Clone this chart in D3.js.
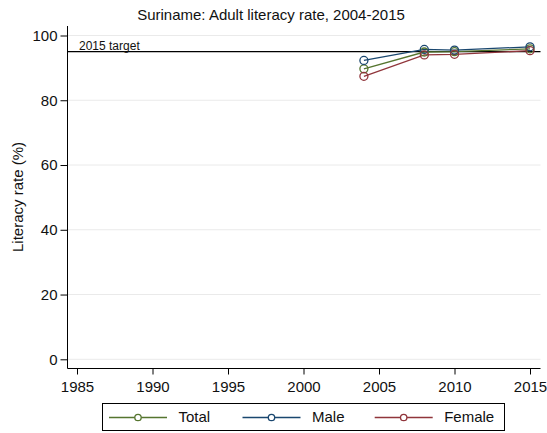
<!DOCTYPE html>
<html><head><meta charset="utf-8">
<script src="https://cdn.jsdelivr.net/npm/d3@7"></script>
<style>body{margin:0;background:#fff;}svg{display:block;}svg text{font-family:"Liberation Sans",Arial,sans-serif;fill:#111;}</style>
</head><body>
<script>
const years = [2004, 2008, 2010, 2015];
const totalVals = [89.7, 94.9, 95.0, 95.9];
const maleVals = [92.3, 95.7, 95.5, 96.5];
const femaleVals = [87.4, 94.0, 94.2, 95.3];
const seriesNames = ["Total", "Male", "Female"];
const xTicks = [1985, 1990, 1995, 2000, 2005, 2010, 2015];
const yTicks = [0, 20, 40, 60, 80, 100];
const targetValue = 95;
const targetLabel = "2015 target";
const titleText = "Suriname: Adult literacy rate, 2004-2015";
const yLabel = "Literacy rate (%)";

(function(){
const colors = {Total:"#55752f", Male:"#1a476f", Female:"#90353b"};
const W=547,H=433;
const svg=d3.select("body").append("svg").attr("width",W).attr("height",H);
const x=d3.scaleLinear().domain([1985,2015]).range([77,530]);
const y=d3.scaleLinear().domain([0,100]).range([359.3,35.5]);
const pLeft=67.5, pRight=540.5, pBottom=368.5, pTop=26;

// gridlines
svg.append("g").selectAll("line").data(yTicks).join("line")
  .attr("x1",pLeft).attr("x2",pRight).attr("y1",d=>y(d)).attr("y2",d=>y(d))
  .attr("stroke","#eaeaea").attr("stroke-width",1);

// y axis
const ya=svg.append("g").attr("transform",`translate(${pLeft},0)`)
  .call(d3.axisLeft(y).tickValues(yTicks).tickSize(7).tickPadding(3));
ya.attr("font-size",null).attr("font-family",null);
ya.select(".domain").attr("d",`M0,${pTop}V${pBottom}`).attr("stroke","#000");
ya.selectAll("text").style("font-size","15px");

// x axis
const xa=svg.append("g").attr("transform",`translate(0,${pBottom})`)
  .call(d3.axisBottom(x).tickValues(xTicks).tickFormat(d3.format("d")).tickSize(6).tickPadding(7));
xa.attr("font-size",null).attr("font-family",null);
xa.select(".domain").attr("d",`M${pLeft},0H${pRight}`).attr("stroke","#000");
xa.selectAll("text").style("font-size","15px");

// target line
svg.append("line").attr("x1",pLeft).attr("x2",pRight).attr("y1",y(targetValue)).attr("y2",y(targetValue))
  .attr("stroke","#000").attr("stroke-width",1.2);
svg.append("text").attr("x",79).attr("y",y(targetValue)-1.2).style("font-size","12px").text(targetLabel);

// series
const data={Total:totalVals, Male:maleVals, Female:femaleVals};
const line=d3.line().x((d,i)=>x(years[i])).y(d=>y(d));
seriesNames.forEach(name=>{
  svg.append("path").datum(data[name]).attr("d",line).attr("fill","none")
    .attr("stroke",colors[name]).attr("stroke-width",1.3);
});
seriesNames.forEach(name=>{
  svg.append("g").selectAll("circle").data(data[name]).join("circle")
    .attr("cx",(d,i)=>x(years[i])).attr("cy",d=>y(d)).attr("r",4)
    .attr("fill","none").attr("stroke",colors[name]).attr("stroke-width",1.3);
});

// title
svg.append("text").attr("x",271).attr("y",20).attr("text-anchor","middle")
  .style("font-size","15px").text(titleText);
// y label
svg.append("text").attr("transform","translate(23,197) rotate(-90)").attr("text-anchor","middle")
  .style("font-size","15px").text(yLabel);

// legend
svg.append("rect").attr("x",102.5).attr("y",403.5).attr("width",402).attr("height",27)
  .attr("fill","#fff").attr("stroke","#000").attr("stroke-width",1);
const legX=[109,242.5,374.7];
seriesNames.forEach((name,i)=>{
  const g=svg.append("g").attr("transform",`translate(${legX[i]},417.5)`);
  g.append("line").attr("x1",0).attr("x2",58).attr("stroke",colors[name]).attr("stroke-width",1.3);
  g.append("circle").attr("cx",29).attr("r",3.2).attr("fill","#fff").attr("stroke",colors[name]).attr("stroke-width",1.3);
  g.append("text").attr("x",69.5).attr("y",4.8).style("font-size","15px").text(name);
});
})();
</script>
</body></html>
